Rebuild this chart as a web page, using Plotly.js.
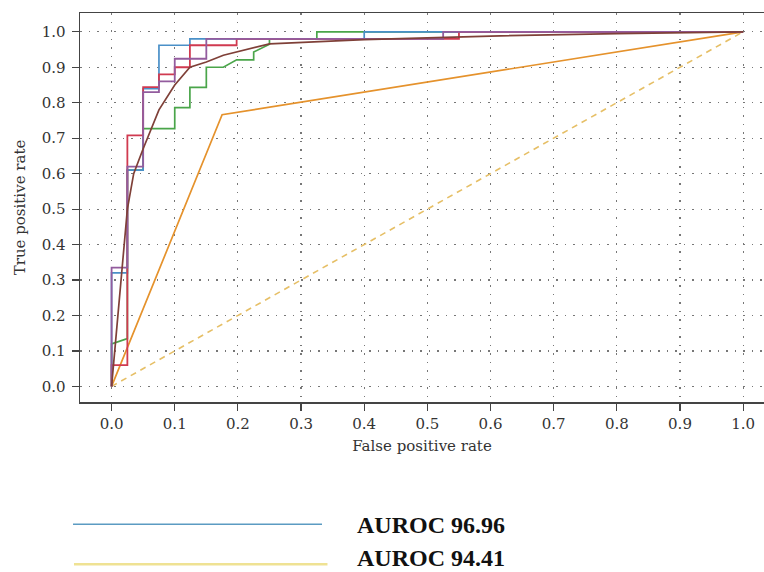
<!DOCTYPE html>
<html>
<head>
<meta charset="utf-8">
<script src="https://cdn.plot.ly/plotly-3.0.1.min.js"></script>
<style>html,body{margin:0;padding:0;background:#fff;}#chart{width:764px;height:572px;}</style>
</head>
<body>
<div id="chart"></div>
<script>
// ROC curve data
const diagFpr = [0, 1];
const diagTpr = [0, 1];

const orangeFpr = [0, 0.175, 1];
const orangeTpr = [0, 0.766, 1];

const greenFpr = [0, 0, 0.025, 0.025, 0.05, 0.05, 0.1, 0.1, 0.124, 0.124, 0.15, 0.15, 0.177, 0.198, 0.225, 0.225, 0.25, 0.25, 0.325, 0.325, 1];
const greenTpr = [0, 0.12, 0.135, 0.61, 0.61, 0.727, 0.727, 0.786, 0.786, 0.843, 0.843, 0.90, 0.90, 0.921, 0.921, 0.943, 0.965, 0.98, 0.98, 1, 1];

const blueFpr = [0, 0, 0.025, 0.025, 0.05, 0.05, 0.075, 0.075, 0.124, 0.124, 0.4, 0.4, 1];
const blueTpr = [0, 0.32, 0.32, 0.61, 0.61, 0.84, 0.84, 0.962, 0.962, 0.98, 0.98, 1, 1];

const redFpr = [0, 0, 0.025, 0.025, 0.05, 0.05, 0.075, 0.075, 0.1, 0.1, 0.124, 0.124, 0.198, 0.198, 0.55, 0.55, 1];
const redTpr = [0, 0.06, 0.06, 0.708, 0.708, 0.844, 0.844, 0.88, 0.88, 0.90, 0.90, 0.962, 0.962, 0.98, 0.98, 1, 1];

const purpleFpr = [0, 0, 0.025, 0.025, 0.05, 0.05, 0.075, 0.075, 0.1, 0.1, 0.15, 0.15, 0.525, 0.525, 1];
const purpleTpr = [0, 0.335, 0.335, 0.62, 0.62, 0.83, 0.83, 0.86, 0.86, 0.924, 0.924, 0.98, 0.98, 1, 1];

const brownFpr = [0, 0.012, 0.025, 0.035, 0.05, 0.075, 0.1, 0.124, 0.15, 0.177, 0.25, 0.4, 0.6, 0.8, 1];
const brownTpr = [0, 0.25, 0.5, 0.6, 0.67, 0.78, 0.85, 0.9, 0.915, 0.934, 0.966, 0.978, 0.988, 0.995, 1];

const tickVals = [0, 0.1, 0.2, 0.3, 0.4, 0.5, 0.6, 0.7, 0.8, 0.9, 1.0];
const tickText = ["0.0", "0.1", "0.2", "0.3", "0.4", "0.5", "0.6", "0.7", "0.8", "0.9", "1.0"];

const legendLabels = ["AUROC 96.96", "AUROC 94.41"];

function line(x, y, color, width, dash) {
  return {x: x, y: y, type: 'scatter', mode: 'lines', hoverinfo: 'skip', showlegend: false,
          line: {color: color, width: width, dash: dash || 'solid'}};
}

const traces = [
  line(diagFpr, diagTpr, '#e6bf66', 1.6, '6px,5px'),
  line(orangeFpr, orangeTpr, '#e5922c', 1.7),
  line(greenFpr, greenTpr, '#4aa54a', 1.7),
  line(blueFpr, blueTpr, '#4a90c8', 1.7),
  line(redFpr, redTpr, '#d03a50', 1.8),
  line(purpleFpr, purpleTpr, '#935c9e', 1.8),
  line(brownFpr, brownTpr, '#7f4038', 1.7)
];

const tickFont = {family: 'DejaVu Serif', size: 15, color: '#333'};
const titleFont = {family: 'DejaVu Serif', size: 15, color: '#333'};

const axisCommon = {
  tickmode: 'array', tickvals: tickVals, ticktext: tickText,
  ticks: 'outside', ticklen: 7, tickcolor: '#444', tickwidth: 1.2,
  showline: true, linecolor: '#444', linewidth: 1.5,
  showgrid: true, gridcolor: '#777', griddash: '1.5px,7px', gridwidth: 1.2,
  zeroline: false, tickfont: tickFont, fixedrange: true
};

const layout = {
  width: 764, height: 572,
  margin: {l: 80, r: 0, t: 13, b: 170},
  paper_bgcolor: '#fff', plot_bgcolor: '#fff',
  showlegend: false,
  xaxis: Object.assign({}, axisCommon, {
    range: [-0.05, 1.033], mirror: true,
    title: {text: 'False positive rate', font: titleFont, standoff: 9}
  }),
  yaxis: Object.assign({}, axisCommon, {
    range: [-0.044, 1.053], mirror: false, ticklabelstandoff: 3,
    title: {text: 'True positive rate', font: titleFont, standoff: 12}
  }),
  shapes: [
    {type: 'line', xref: 'paper', yref: 'paper', x0: -0.0102, x1: 0.3538, y0: -0.3145, y1: -0.3145,
     line: {color: '#5b9bc2', width: 1.5}},
    {type: 'line', xref: 'paper', yref: 'paper', x0: -0.0088, x1: 0.3618, y0: -0.4173, y1: -0.4173,
     line: {color: '#efe293', width: 2.5}}
  ],
  annotations: [
    {xref: 'paper', yref: 'paper', x: 0.4035, y: -0.315, xanchor: 'left', yanchor: 'middle', showarrow: false, borderpad: 0,
     text: '<b>' + legendLabels[0] + '</b>', font: {family: 'Liberation Serif', size: 24, color: '#111'}},
    {xref: 'paper', yref: 'paper', x: 0.4035, y: -0.402, xanchor: 'left', yanchor: 'middle', showarrow: false, borderpad: 0,
     text: '<b>' + legendLabels[1] + '</b>', font: {family: 'Liberation Serif', size: 24, color: '#111'}}
  ]
};

Plotly.newPlot('chart', traces, layout, {staticPlot: true, displayModeBar: false});
</script>
</body>
</html>
